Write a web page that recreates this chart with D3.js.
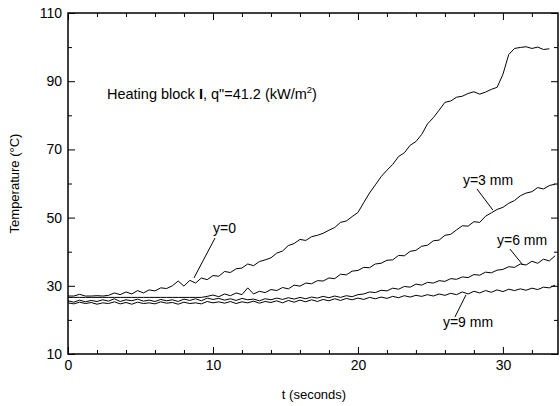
<!DOCTYPE html>
<html>
<head>
<meta charset="utf-8">
<script src="https://cdn.jsdelivr.net/npm/d3@7"></script>
<style>
  html, body { margin: 0; padding: 0; background: #fff; }
  svg { display: block; }
  text { font-family: "Liberation Sans", Arial, sans-serif; fill: #000; }
</style>
</head>
<body>
<svg id="chart" width="560" height="406"></svg>
<script>
// ---- data (time in seconds, temperature in °C) ----
const times = [0, 0.4, 0.8, 1.2, 1.6, 2.0, 2.4, 2.8, 3.2, 3.6, 4.0, 4.4, 4.8, 5.2, 5.6, 6.0, 6.4, 6.8, 7.2, 7.6,
  8.0, 8.4, 8.8, 9.2, 9.6, 10.0, 10.4, 10.8, 11.2, 11.6, 12.0, 12.4, 12.8, 13.2, 13.6, 14.0, 14.4, 14.8, 15.2, 15.6,
  16.0, 16.4, 16.8, 17.2, 17.6, 18.0, 18.4, 18.8, 19.2, 19.6, 20.0, 20.4, 20.8, 21.2, 21.6, 22.0, 22.4, 22.8, 23.2, 23.6,
  24.0, 24.4, 24.8, 25.2, 25.6, 26.0, 26.4, 26.8, 27.2, 27.6, 28.0, 28.4, 28.8, 29.2, 29.6, 30.0, 30.4, 30.8, 31.2, 31.6,
  32.0, 32.4, 32.8, 33.2, 33.6];

const y0mm = [27.0, 27.0, 27.5, 27.0, 27.0, 27.1, 27.0, 27.2, 27.9, 27.4, 28.2, 27.6, 28.6, 27.9, 28.8, 28.5, 29.4, 29.2, 30.0, 31.4,
  29.9, 31.6, 30.8, 32.3, 31.8, 33.0, 32.8, 34.2, 33.9, 35.0, 35.2, 36.4, 35.9, 37.1, 37.6, 38.2, 39.6, 40.2, 41.8, 42.4,
  43.6, 43.3, 44.4, 44.8, 45.4, 46.3, 47.1, 48.6, 49.0, 50.3, 51.5, 54.4, 57.2, 59.6, 62.0, 63.9, 65.6, 67.9, 69.0, 71.2,
  72.3, 74.4, 77.5, 79.3, 81.5, 83.8, 84.2, 85.3, 85.6, 86.4, 86.9, 86.2, 86.8, 87.6, 88.2, 92.0, 97.8, 99.6, 99.9, 100.1,
  99.6, 100.0, 99.3, 99.5, null];

const y3mm = [26.6, 26.6, 26.6, 26.6, 26.6, 26.6, 26.6, 26.6, 26.6, 26.6, 26.6, 26.6, 26.6, 26.6, 26.6, 26.6, 26.6, 26.6, 26.6, 26.6,
  26.6, 26.6, 26.6, 26.6, 26.9, 27.3, 26.8, 27.6, 27.1, 27.9, 27.4, 29.4, 27.6, 28.4, 28.0, 28.9, 28.6, 29.5, 29.1, 30.2,
  29.9, 30.8, 30.6, 31.5, 31.4, 32.3, 32.1, 33.4, 33.2, 34.3, 34.5, 35.4, 35.3, 36.4, 36.6, 37.5, 37.6, 38.9, 38.8, 40.1,
  40.4, 41.6, 41.9, 43.2, 43.4, 44.8, 45.1, 46.4, 47.6, 47.5, 48.8, 48.6, 50.4, 51.4, 52.4, 53.0, 54.2, 55.0, 56.4, 57.2,
  57.6, 58.8, 58.4, 59.4, 59.8];

const y6mm = [25.6, 25.2, 25.8, 25.3, 25.7, 25.4, 25.9, 25.5, 26.2, 25.4, 25.9, 25.6, 26.1, 25.5, 25.8, 25.4, 26.0, 25.6, 25.9, 25.4,
  26.1, 25.7, 26.2, 25.6, 26.4, 26.0, 26.3, 25.8, 26.2, 25.7, 26.3, 25.9, 26.1, 25.6, 26.2, 25.9, 26.4, 26.0, 26.5, 26.1,
  26.6, 26.2, 26.7, 26.4, 26.9, 26.5, 27.0, 26.6, 27.1, 26.8, 27.4, 27.6, 28.2, 28.0, 28.7, 28.5, 29.3, 29.0, 29.8, 29.6,
  30.5, 30.2, 31.0, 30.8, 31.5, 31.3, 32.1, 31.9, 32.6, 32.4, 33.3, 33.1, 34.0, 33.8, 34.6, 34.8, 35.6, 35.4, 36.4, 36.1,
  37.2, 36.6, 37.8, 37.3, 38.8];

const y9mm = [25.0, 24.7, 25.2, 24.8, 25.1, 24.6, 25.0, 24.8, 25.3, 24.7, 25.1, 24.6, 25.2, 24.8, 25.0, 24.7, 25.3, 24.9, 25.1, 24.6,
  25.2, 24.8, 25.0, 24.7, 25.4, 25.0, 25.3, 24.9, 25.4, 24.8, 25.3, 25.0, 25.5, 24.9, 25.4, 25.1, 25.6, 25.0, 25.7, 25.2,
  25.8, 25.3, 25.9, 25.4, 26.0, 25.6, 26.2, 25.7, 26.3, 25.9, 26.4, 26.0, 26.6, 26.2, 26.7, 26.3, 26.9, 26.5, 27.1, 26.7,
  27.2, 26.9, 27.4, 27.0, 27.6, 27.2, 27.8, 27.4, 28.2, 27.6, 28.4, 27.9, 28.6, 28.1, 28.8, 28.3, 29.0, 28.6, 29.1, 28.7,
  29.3, 28.9, 29.6, 29.4, 30.2];

const seriesList = [y0mm, y3mm, y6mm, y9mm];

const xMajorTicks = [0, 10, 20, 30];
const xMinorTicks = [2, 4, 6, 8, 12, 14, 16, 18, 22, 24, 26, 28, 32];
const yMajorTicks = [10, 30, 50, 70, 90, 110];
const yMinorTicks = [20, 40, 60, 80, 100];

const xTitle = "t (seconds)";
const yTitle = "Temperature (\u00B0C)";

// curve labels: text anchor point and leader line (data units)
const curveLabels = [
  { text: "y=0",    tx: 10.0,  ty: 45.5, l1: [10.14, 44.0], l2: [8.69, 32.3] },
  { text: "y=3 mm", tx: 27.24, ty: 59.6, l1: [28.21, 58.4], l2: [29.31, 52.2] },
  { text: "y=6 mm", tx: 29.59, ty: 42.0, l1: [30.48, 40.8], l2: [31.38, 36.1] },
  { text: "y=9 mm", tx: 25.86, ty: 17.9, l1: [26.69, 20.85], l2: [27.45, 27.3] }
];
const headingPos = [2.69, 84.8];

// ---- drawing ----
const svg = d3.select("#chart");
const pL = 68, pR = 558, pT = 13, pB = 354;

const x = d3.scaleLinear().domain([0, 33.8]).range([pL, pR]);
const y = d3.scaleLinear().domain([10, 110]).range([pB, pT]);

const axisStyle = g => {
  g.select(".domain").remove();
  g.selectAll("line").attr("stroke", "#000").attr("stroke-width", 1);
  g.selectAll("text").attr("font-size", 14).attr("font-family", '"Liberation Sans", Arial, sans-serif').attr("fill", "#000");
};

// bottom
svg.append("g").attr("transform", `translate(0,${pB})`)
  .call(d3.axisBottom(x).tickValues(xMajorTicks).tickFormat(d3.format("d")).tickSizeInner(-7).tickSizeOuter(0).tickPadding(6))
  .call(axisStyle);
svg.append("g").attr("transform", `translate(0,${pB})`)
  .call(d3.axisBottom(x).tickValues(xMinorTicks).tickFormat("").tickSizeInner(-4).tickSizeOuter(0))
  .call(axisStyle);
// top
svg.append("g").attr("transform", `translate(0,${pT})`)
  .call(d3.axisTop(x).tickValues(xMajorTicks).tickFormat("").tickSizeInner(-7).tickSizeOuter(0))
  .call(axisStyle);
svg.append("g").attr("transform", `translate(0,${pT})`)
  .call(d3.axisTop(x).tickValues(xMinorTicks).tickFormat("").tickSizeInner(-4).tickSizeOuter(0))
  .call(axisStyle);
// left
svg.append("g").attr("transform", `translate(${pL},0)`)
  .call(d3.axisLeft(y).tickValues(yMajorTicks).tickFormat(d3.format("d")).tickSizeInner(-7).tickSizeOuter(0).tickPadding(6))
  .call(axisStyle);
svg.append("g").attr("transform", `translate(${pL},0)`)
  .call(d3.axisLeft(y).tickValues(yMinorTicks).tickFormat("").tickSizeInner(-4).tickSizeOuter(0))
  .call(axisStyle);
// right
svg.append("g").attr("transform", `translate(${pR},0)`)
  .call(d3.axisRight(y).tickValues(yMajorTicks).tickFormat("").tickSizeInner(-7).tickSizeOuter(0))
  .call(axisStyle);
svg.append("g").attr("transform", `translate(${pR},0)`)
  .call(d3.axisRight(y).tickValues(yMinorTicks).tickFormat("").tickSizeInner(-4).tickSizeOuter(0))
  .call(axisStyle);

// frame
svg.append("rect")
  .attr("x", x(0)).attr("y", y(110))
  .attr("width", x(33.8) - x(0)).attr("height", y(10) - y(110))
  .attr("fill", "none").attr("stroke", "#000").attr("stroke-width", 1.5);

// curves
const line = d3.line()
  .defined(d => d != null)
  .x((d, i) => x(times[i]))
  .y(d => y(d));

svg.append("g").selectAll("path")
  .data(seriesList)
  .join("path")
  .attr("d", line)
  .attr("fill", "none")
  .attr("stroke", "#000")
  .attr("stroke-width", 1)
  .attr("stroke-linejoin", "round");

// curve labels
const lab = svg.append("g");
curveLabels.forEach(c => {
  lab.append("text").attr("x", x(c.tx)).attr("y", y(c.ty)).attr("font-size", 14).text(c.text);
  lab.append("line")
    .attr("x1", x(c.l1[0])).attr("y1", y(c.l1[1]))
    .attr("x2", x(c.l2[0])).attr("y2", y(c.l2[1]))
    .attr("stroke", "#000").attr("stroke-width", 1);
});

// heading
const h = svg.append("text").attr("x", x(headingPos[0])).attr("y", y(headingPos[1])).attr("font-size", 14.5);
h.append("tspan").text("Heating block ");
h.append("tspan").attr("font-weight", "bold").text("I");
h.append("tspan").text(", q\"=41.2 (kW/m");
h.append("tspan").attr("font-size", 9.5).attr("dy", -6).text("2");
h.append("tspan").attr("dy", 6).text(")");

// axis titles
svg.append("text").attr("x", (pL + pR) / 2 + 1).attr("y", 399)
  .attr("text-anchor", "middle").attr("font-size", 13).text(xTitle);
svg.append("text").attr("transform", `translate(19,${(pT + pB) / 2}) rotate(-90)`)
  .attr("text-anchor", "middle").attr("font-size", 13).text(yTitle);
</script>
</body>
</html>
